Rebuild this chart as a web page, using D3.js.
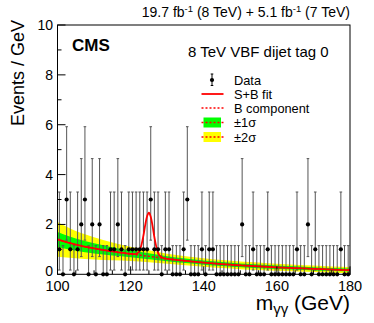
<!DOCTYPE html>
<html><head><meta charset="utf-8">
<script src="https://cdn.jsdelivr.net/npm/d3@7"></script>
<style>body{margin:0;background:#fff}svg{display:block}text{font-family:"Liberation Sans",Arial,Helvetica,sans-serif}</style>
</head><body>
<script>
// ---- data ----
const binStart = 100, binWidth = 1;
const counts = [1,0,3,1,0,1,2,3,0,2, 0,2,0,0,1,1,2,1,0,1, 1,1,1,1,1,3,1,1,0,1,
  1,0,0,0,1,3,0,0,0,1, 0,1,1,0,0,0,0,0,0,0, 2,0,0,1,0,0,0,1,0,0,
  0,0,0,0,0,1,0,0,2,0, 1,0,0,0,0,0,0,1,0,0];
const poissonErrLow  = [0, 0.83, 1.29, 1.63];
const poissonErrHigh = [1.15, 2.30, 2.64, 2.92];
const bandMass = [100,105,110,115,120,125,130,135,140,145,150,155,160,165,170,175,180];
const bkgFit   = [1.40,1.19,1.04,0.92,0.82,0.72,0.62,0.54,0.47,0.41,0.36,0.32,0.28,0.25,0.22,0.19,0.17];
const err2s    = [0.70,0.55,0.45,0.36,0.29,0.24,0.20,0.18,0.17,0.16,0.155,0.15,0.14,0.135,0.13,0.125,0.12];
const err1s    = [0.30,0.25,0.21,0.17,0.14,0.12,0.10,0.09,0.085,0.08,0.078,0.074,0.07,0.068,0.065,0.062,0.06];
const sbMass = [100,105,110,115,120,121,122,122.5,123,123.5,124,124.5,125,125.5,126,126.5,127,127.5,128,129,130,135,140,145,150,155,160,165,170,175,180];
const sbFit  = [1.40,1.19,1.04,0.92,0.82,0.81,0.86,0.97,1.20,1.55,1.98,2.33,2.47,2.31,1.94,1.49,1.12,0.87,0.74,0.65,0.62,0.54,0.47,0.41,0.36,0.32,0.28,0.25,0.22,0.19,0.17];
const xTicks = [100,120,140,160,180];
const yTicks = [0,2,4,6,8,10];
const legendLabels = ["Data","S+B fit","B component","\u00b11\u03c3","\u00b12\u03c3"];

// ---- layout ----
const W = 374, H = 323;
const L = 57.5, R = 350, T = 25, B = 274.3;
const svg = d3.select("body").append("svg").attr("width",W).attr("height",H);
svg.append("rect").attr("width",W).attr("height",H).attr("fill","#fff");
const x = d3.scaleLinear().domain([100,180]).range([L,R]);
const y = d3.scaleLinear().domain([0,10]).range([B,T]);

svg.append("clipPath").attr("id","clip").append("rect").attr("x",L).attr("y",T).attr("width",R-L).attr("height",B-T);
const g = svg.append("g").attr("clip-path","url(#clip)");

const band = bandMass.map((m,i)=>({m, b:bkgFit[i], e1:err1s[i], e2:err2s[i]}));
const area = (k)=>d3.area().x(d=>x(d.m)).y0(d=>y(d.b-d[k])).y1(d=>y(d.b+d[k])).curve(d3.curveMonotoneX);
g.append("path").datum(band).attr("d",area("e2")).attr("fill","#ffff00");
g.append("path").datum(band).attr("d",area("e1")).attr("fill","#00ff00");

// data error bars
const data = counts.map((c,i)=>({m: binStart + binWidth*(i+0.5), c}));
const bars = g.append("g").attr("stroke","#555").attr("stroke-width",1);
data.forEach(d=>{
  const lo = y(d.c - poissonErrLow[d.c]), hi = y(d.c + poissonErrHigh[d.c]), cx = x(d.m);
  bars.append("line").attr("x1",cx).attr("x2",cx).attr("y1",lo).attr("y2",hi);
  bars.append("line").attr("x1",cx-1.3).attr("x2",cx+1.3).attr("y1",hi).attr("y2",hi);
  bars.append("line").attr("x1",cx-1.3).attr("x2",cx+1.3).attr("y1",lo).attr("y2",lo);
});

// B component dashed
g.append("path").datum(band).attr("d",d3.line().x(d=>x(d.m)).y(d=>y(d.b)).curve(d3.curveMonotoneX))
  .attr("fill","none").attr("stroke","#ff0000").attr("stroke-width",1.5).attr("stroke-dasharray","2,2");
// S+B
g.append("path").datum(sbMass.map((m,i)=>({m,v:sbFit[i]})))
  .attr("d",d3.line().x(d=>x(d.m)).y(d=>y(d.v)).curve(d3.curveCatmullRom))
  .attr("fill","none").attr("stroke","#ff0000").attr("stroke-width",1.8);

// points
svg.append("g").selectAll("circle").data(data).join("circle")
  .attr("cx",d=>x(d.m)).attr("cy",d=>y(d.c)).attr("r",2.1).attr("fill","#000");

// frame
svg.append("rect").attr("x",L).attr("y",T).attr("width",R-L).attr("height",B-T)
  .attr("fill","none").attr("stroke","#000").attr("stroke-width",1);

// ticks
const tk = svg.append("g").attr("stroke","#000").attr("stroke-width",1);
d3.range(0,10.01,1).forEach(v=>{
  const len = (v%2===0)?8:4;
  tk.append("line").attr("x1",L).attr("x2",L+len).attr("y1",y(v)).attr("y2",y(v));
});
d3.range(100,180.01,5).forEach(v=>{
  const len = (v%20===0)?8:4;
  tk.append("line").attr("x1",x(v)).attr("x2",x(v)).attr("y1",B).attr("y2",B-len);
});
svg.append("g").selectAll("text").data(yTicks).join("text")
  .attr("x",L-4.5).attr("y",d=>y(d)-(d===0?3:0)).attr("dy","0.36em").attr("text-anchor","end")
  .attr("font-size",14).text(d=>d);
svg.append("g").selectAll("text").data(xTicks).join("text")
  .attr("x",d=>x(d)).attr("y",291).attr("text-anchor","middle")
  .attr("font-size",14.5).text(d=>d);

// axis titles
svg.append("text").attr("transform","translate(24,20) rotate(-90)").attr("text-anchor","end")
  .attr("font-size",18).text("Events / GeV");
const xt = svg.append("text").attr("x",R).attr("y",310).attr("text-anchor","end").attr("font-size",21);
xt.append("tspan").text("m");
xt.append("tspan").attr("font-size",15).attr("dy",4).text("\u03b3\u03b3");
xt.append("tspan").attr("dy",-4).text(" (GeV)");

// top label
const tt = svg.append("text").attr("x",R).attr("y",17).attr("text-anchor","end").attr("font-size",14);
tt.append("tspan").text("19.7 fb");
tt.append("tspan").attr("font-size",9.5).attr("dy",-5).text("-1");
tt.append("tspan").attr("dy",5).text(" (8 TeV) + 5.1 fb");
tt.append("tspan").attr("font-size",9.5).attr("dy",-5).text("-1");
tt.append("tspan").attr("dy",5).text(" (7 TeV)");

svg.append("text").attr("x",72).attr("y",51).attr("font-size",17).attr("font-weight","bold").text("CMS");
svg.append("text").attr("x",188).attr("y",57).attr("font-size",15).text("8 TeV VBF dijet tag 0");

// legend
const lg = svg.append("g");
const ly = [80,94,108,122.5,137], sx = 212, tx = 234;
legendLabels.forEach((t,i)=>lg.append("text").attr("x",tx).attr("y",ly[i]).attr("dy","0.36em").attr("font-size",12.8).text(t));
lg.append("line").attr("x1",sx).attr("x2",sx).attr("y1",ly[0]-6).attr("y2",ly[0]+5.5).attr("stroke","#000");
lg.append("line").attr("x1",sx-1.3).attr("x2",sx+1.3).attr("y1",ly[0]-6).attr("y2",ly[0]-6).attr("stroke","#000");
lg.append("line").attr("x1",sx-1.3).attr("x2",sx+1.3).attr("y1",ly[0]+5.5).attr("y2",ly[0]+5.5).attr("stroke","#000");
lg.append("circle").attr("cx",sx).attr("cy",ly[0]).attr("r",2.1).attr("fill","#000");
lg.append("line").attr("x1",201.5).attr("x2",223.5).attr("y1",ly[1]).attr("y2",ly[1]).attr("stroke","#ff0000").attr("stroke-width",1.8);
lg.append("line").attr("x1",201.5).attr("x2",223.5).attr("y1",ly[2]).attr("y2",ly[2]).attr("stroke","#ff0000").attr("stroke-width",1.5).attr("stroke-dasharray","2,2");
[["#00ff00",3],["#ffff00",4]].forEach(([c,i])=>{
  lg.append("rect").attr("x",203.5).attr("y",ly[i]-5).attr("width",17.5).attr("height",10).attr("fill",c);
  lg.append("line").attr("x1",201.5).attr("x2",223.5).attr("y1",ly[i]).attr("y2",ly[i]).attr("stroke","#ff0000").attr("stroke-width",1.5).attr("stroke-dasharray","2,2");
});
</script>
</body></html>
